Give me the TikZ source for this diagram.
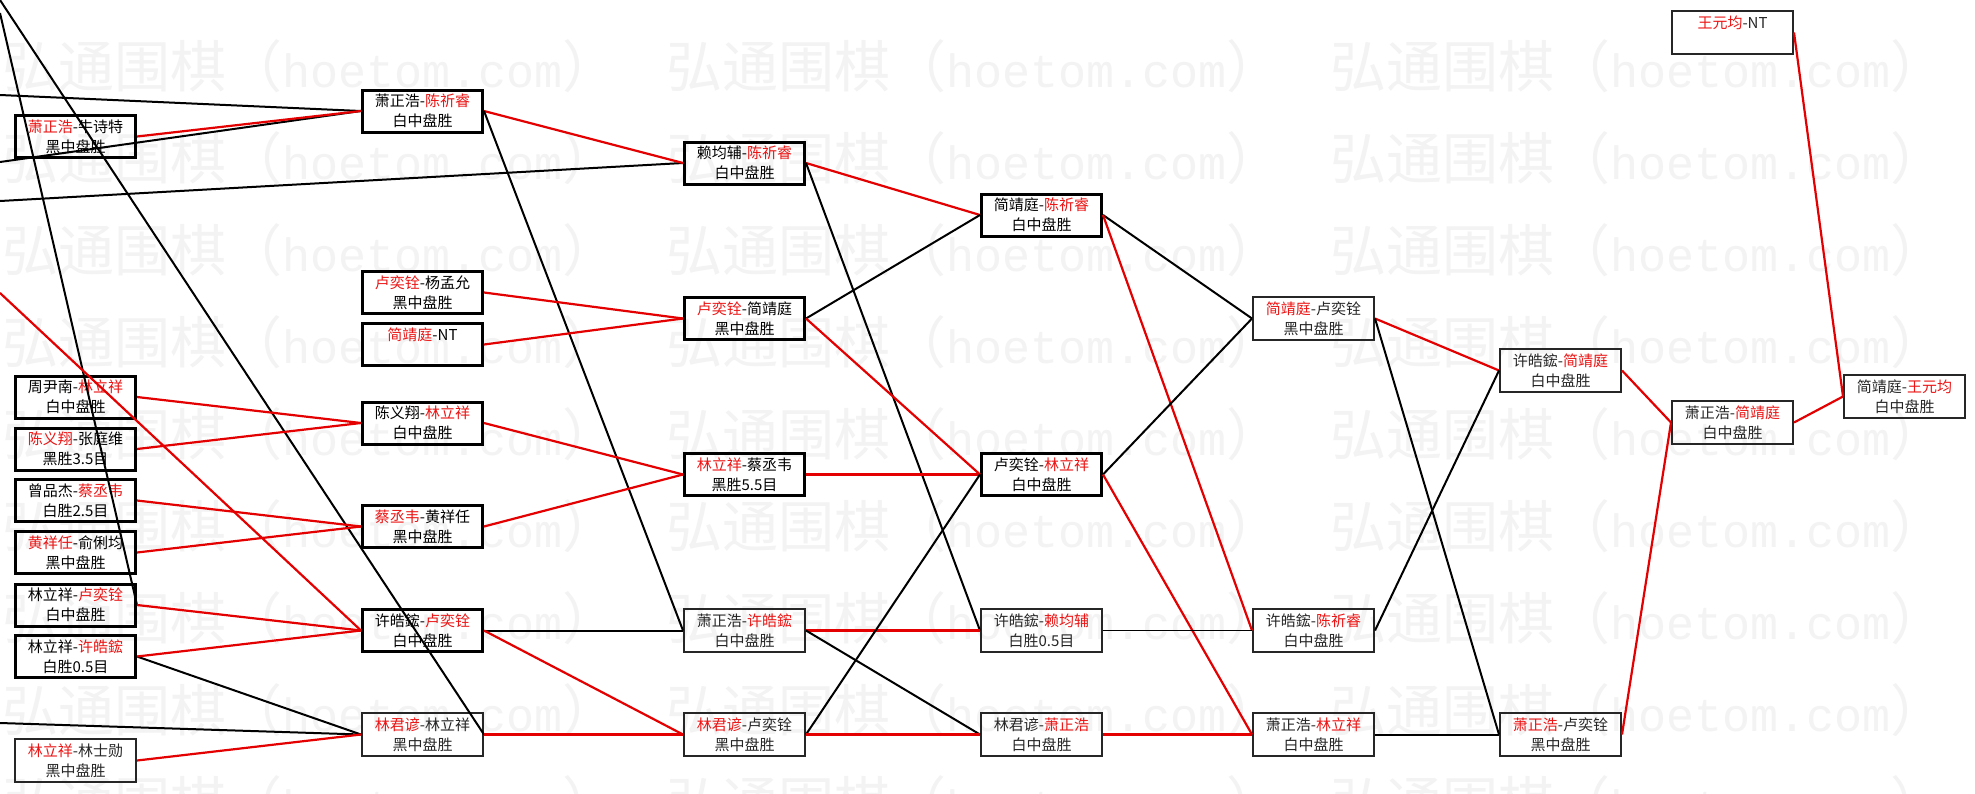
\documentclass[tikz,border=0pt]{standalone}
\usepackage{fontspec}
\newfontfamily\cjk{Noto Sans CJK SC}
\newfontfamily\wmmono{Liberation Mono}
\definecolor{lred}{RGB}{228,0,0}
\definecolor{tred}{RGB}{236,20,20}
\definecolor{wmc}{RGB}{243,243,243}
\newcommand{\rd}[1]{\textcolor{tred}{#1}}
\begin{document}
\begin{tikzpicture}[x=1pt,y=-1pt,
  mbox/.style={draw=black, line width=3pt, minimum width=120pt, minimum height=42pt,
    inner sep=0pt, align=center, font=\cjk\fontsize{15}{20}\selectfont},
  lbox/.style={draw=black!85, line width=2pt, minimum width=121pt, minimum height=43pt,
    inner sep=0pt, align=center, text=black!85, font=\cjk\fontsize{15}{20}\selectfont},
  win/.style={draw=lred, line width=2.2pt},
  lose/.style={draw=black, line width=2pt},
  wm/.style={text=wmc, anchor=base west, inner sep=0pt, font=\cjk\fontsize{56}{56}\selectfont}
]
\fill[white] (0,0) rectangle (1975,793);
\useasboundingbox (0,0) rectangle (1975,793);
% watermark
\foreach \r in {0,...,8}{
  \foreach \c in {0,1,2}{
    \node[wm] (wm-\r-\c) at (2+664*\c, 87+92*\r) {弘通围棋（{\wmmono\fontsize{46.7}{56}\selectfont hoetom.com}）};
  }
}
% column 1
\node[mbox] (a1) at (75.5,136.5) {\rd{萧正浩}-牛诗特\\黑中盘胜};
\node[mbox] (a2) at (75.5,397) {周尹南-\rd{林立祥}\\白中盘胜};
\node[mbox] (a3) at (75.5,449) {\rd{陈义翔}-张庭维\\黑胜3.5目};
\node[mbox] (a4) at (75.5,500.5) {曾品杰-\rd{蔡丞韦}\\白胜2.5目};
\node[mbox] (a5) at (75.5,552.5) {\rd{黄祥任}-俞俐均\\黑中盘胜};
\node[mbox] (a6) at (75.5,605) {林立祥-\rd{卢奕铨}\\白中盘胜};
\node[mbox] (a7) at (75.5,656.5) {林立祥-\rd{许皓鋐}\\白胜0.5目};
\node[lbox] (a8) at (75.5,760.5) {\rd{林立祥}-林士勋\\黑中盘胜};
% column 2
\node[mbox] (b1) at (422.5,111) {萧正浩-\rd{陈祈睿}\\白中盘胜};
\node[mbox] (b2) at (422.5,292.5) {\rd{卢奕铨}-杨孟允\\黑中盘胜};
\node[mbox] (b3) at (422.5,344.5) {\rd{简靖庭}-NT\\\phantom{白中盘胜}};
\node[mbox] (b4) at (422.5,423) {陈义翔-\rd{林立祥}\\白中盘胜};
\node[mbox] (b5) at (422.5,526.5) {\rd{蔡丞韦}-黄祥任\\黑中盘胜};
\node[mbox] (b6) at (422.5,630.5) {许皓鋐-\rd{卢奕铨}\\白中盘胜};
\node[lbox] (b7) at (422.5,734.5) {\rd{林君谚}-林立祥\\黑中盘胜};
% column 3
\node[mbox] (c1) at (744.5,163) {赖均辅-\rd{陈祈睿}\\白中盘胜};
\node[mbox] (c2) at (744.5,318.5) {\rd{卢奕铨}-简靖庭\\黑中盘胜};
\node[mbox] (c3) at (744.5,474.5) {\rd{林立祥}-蔡丞韦\\黑胜5.5目};
\node[lbox] (c4) at (744.5,630.5) {萧正浩-\rd{许皓鋐}\\白中盘胜};
\node[lbox] (c5) at (744.5,734.5) {\rd{林君谚}-卢奕铨\\黑中盘胜};
% column 4
\node[mbox] (d1) at (1041.5,215) {简靖庭-\rd{陈祈睿}\\白中盘胜};
\node[mbox] (d2) at (1041.5,474.5) {卢奕铨-\rd{林立祥}\\白中盘胜};
\node[lbox] (d3) at (1041.5,630.5) {许皓鋐-\rd{赖均辅}\\白胜0.5目};
\node[lbox] (d4) at (1041.5,734.5) {林君谚-\rd{萧正浩}\\白中盘胜};
% column 5
\node[lbox] (e1) at (1313.5,318.5) {\rd{简靖庭}-卢奕铨\\黑中盘胜};
\node[lbox] (e2) at (1313.5,630.5) {许皓鋐-\rd{陈祈睿}\\白中盘胜};
\node[lbox] (e3) at (1313.5,734.5) {萧正浩-\rd{林立祥}\\白中盘胜};
% column 6
\node[lbox] (f1) at (1560.5,370.5) {许皓鋐-\rd{简靖庭}\\白中盘胜};
\node[lbox] (f2) at (1560.5,734.5) {\rd{萧正浩}-卢奕铨\\黑中盘胜};
% column 7
\node[lbox] (g0) at (1732.5,32.5) {\rd{王元均}-NT\\\phantom{白中盘胜}};
\node[lbox] (g1) at (1732.5,422.5) {萧正浩-\rd{简靖庭}\\白中盘胜};
% column 8
\node[lbox] (h1) at (1904.5,396.5) {简靖庭-\rd{王元均}\\白中盘胜};
% free ends at the left edge
\coordinate (o1) at (0,13);
\coordinate (o2) at (0,0);
\coordinate (o3) at (0,95);
\coordinate (o4) at (0,162);
\coordinate (o5) at (0,201);
\coordinate (o6) at (0,293);
\coordinate (o7) at (0,723);
% connectors into column 2
\draw[lose] (o3) -- (b1.west);
\draw[lose] (o4) -- (b1.west);
\draw[lose] (o5) -- (c1.west);
\draw[lose] (a6.east) -- (o1);
\draw[lose] (o2) -- (b7.east);
\draw[lose] (a7.east) -- (b7.west);
\draw[lose] (o7) -- (b7.west);
\draw[win] (a1.east) -- (b1.west);
\draw[win] (a2.east) -- (b4.west);
\draw[win] (a3.east) -- (b4.west);
\draw[win] (a4.east) -- (b5.west);
\draw[win] (a5.east) -- (b5.west);
\draw[win] (a6.east) -- (b6.west);
\draw[win] (a7.east) -- (b6.west);
\draw[win] (a8.east) -- (b7.west);
\draw[win] (o6) -- (b6.west);
% column 2 to 3
\draw[win] (b1.east) -- (c1.west);
\draw[lose] (b1.east) -- (c4.west);
\draw[win] (b2.east) -- (c2.west);
\draw[win] (b3.east) -- (c2.west);
\draw[win] (b4.east) -- (c3.west);
\draw[win] (b5.east) -- (c3.west);
\draw[lose] (b6.east) -- (c4.west);
\draw[win] (b6.east) -- (c5.west);
\draw[win] (b7.east) -- (c5.west);
% column 3 to 4
\draw[win] (c1.east) -- (d1.west);
\draw[lose] (c1.east) -- (d3.west);
\draw[lose] (c2.east) -- (d1.west);
\draw[win] (c2.east) -- (d2.west);
\draw[win] (c3.east) -- (d2.west);
\draw[win] (c4.east) -- (d3.west);
\draw[lose] (c4.east) -- (d4.west);
\draw[lose] (c5.east) -- (d2.west);
\draw[win] (c5.east) -- (d4.west);
% column 4 to 5
\draw[lose] (d1.east) -- (e1.west);
\draw[win] (d1.east) -- (e2.west);
\draw[lose] (d2.east) -- (e1.west);
\draw[win] (d2.east) -- (e3.west);
\draw[lose, line width=1.6pt] (d3.east) -- (e2.west);
\draw[win] (d4.east) -- (e3.west);
% column 5 to 6
\draw[win] (e1.east) -- (f1.west);
\draw[lose] (e1.east) -- (f2.west);
\draw[lose] (e2.east) -- (f1.west);
\draw[lose] (e3.east) -- (f2.west);
% column 6 to 8
\draw[win] (f1.east) -- (g1.west);
\draw[win] (f2.east) -- (g1.west);
\draw[win] (g1.east) -- (h1.west);
\draw[win] (g0.east) -- (h1.west);
\end{tikzpicture}
\end{document}
